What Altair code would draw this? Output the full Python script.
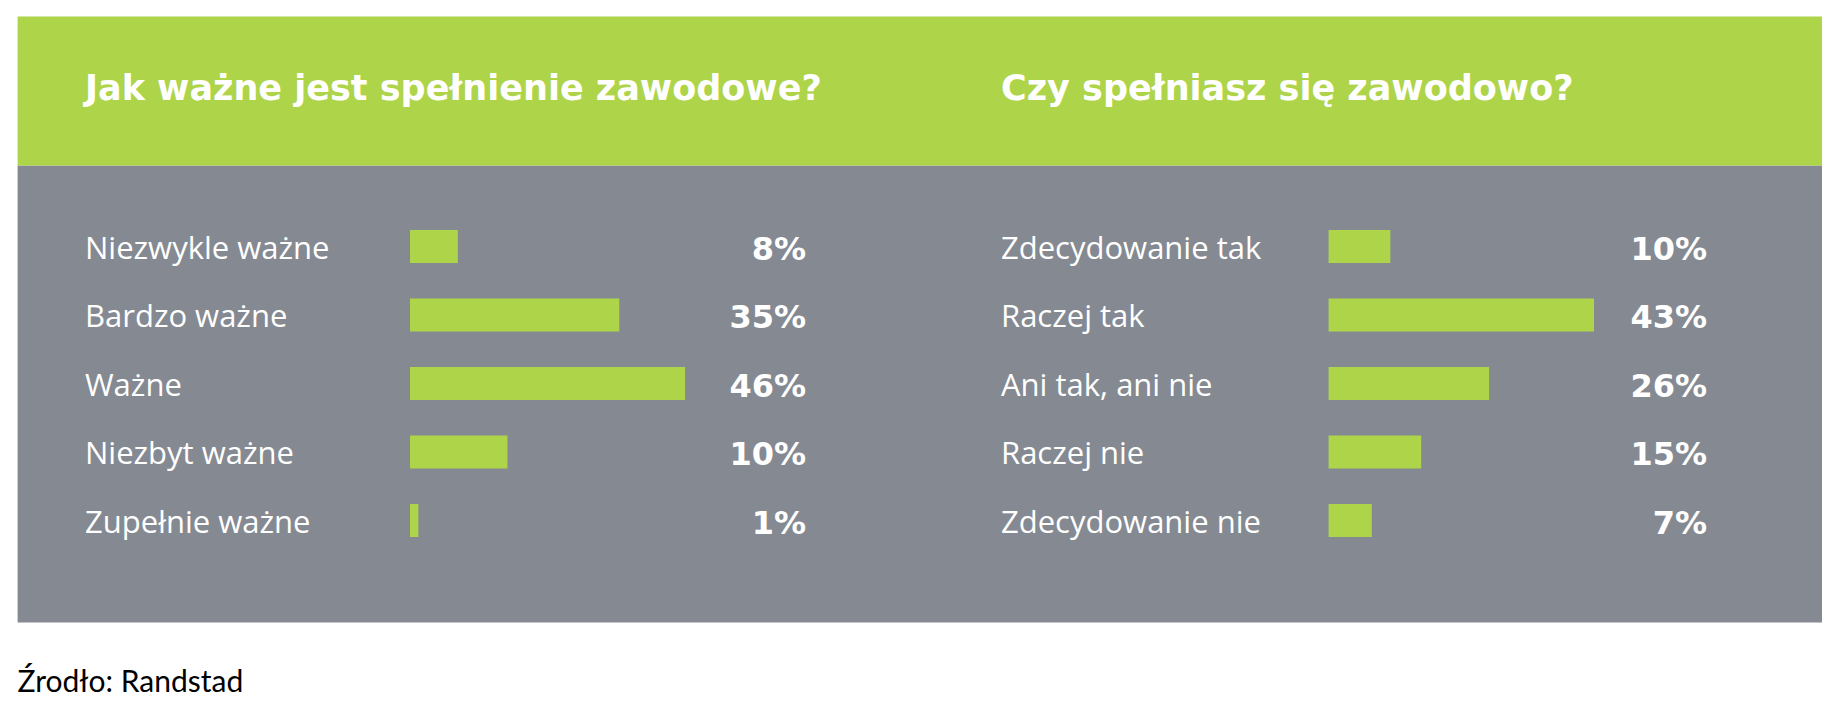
import altair as alt
import pandas as pd

# ---- data ----
titles = ["Jak ważne jest spełnienie zawodowe?", "Czy spełniasz się zawodowo?"]

left_cats = ["Niezwykle ważne", "Bardzo ważne", "Ważne", "Niezbyt ważne", "Zupełnie ważne"]
left_labels = ["8%", "35%", "46%", "10%", "1%"]
left_bars = [8, 35, 46, 16.3, 1.4]   # bar lengths as drawn in the picture (in %)

right_cats = ["Zdecydowanie tak", "Raczej tak", "Ani tak, ani nie", "Raczej nie", "Zdecydowanie nie"]
right_labels = ["10%", "43%", "26%", "15%", "7%"]
right_bars = [10, 43, 26, 15, 7]

source_text = "Źrodło: Randstad"

GREEN = "#aed44a"
GRAY = "#858a92"
W, H = 1842, 710

left = pd.DataFrame({"row": range(5), "cat": left_cats, "label": left_labels, "bar": left_bars})
right = pd.DataFrame({"row": range(5), "cat": right_cats, "label": right_labels, "bar": right_bars})

one = alt.Data(values=[{}])

y_enc = alt.Y("row:O", axis=None,
              scale=alt.Scale(range=[212.25, 554.75], paddingInner=0.518, paddingOuter=0.259))

gray_bg = alt.Chart(one).mark_rect(color=GRAY).encode(
    x=alt.value(17.6), x2=alt.value(1822), y=alt.value(165.6), y2=alt.value(622.6))
green_bg = alt.Chart(one).mark_rect(color=GREEN).encode(
    x=alt.value(17.6), x2=alt.value(1822), y=alt.value(16.4), y2=alt.value(165.6))

title_df = pd.DataFrame({"t": titles, "px": [85, 1001]})
title_marks = alt.Chart(title_df).mark_text(
    align="left", baseline="middle", font="DejaVu Sans", fontSize=35, fontWeight="bold", color="white"
).encode(x=alt.X("px:Q", scale=None), y=alt.value(89), text="t:N")

def panel(df, lab_x, bar_range, dom_max, pct_x):
    base = alt.Chart(df)
    bars = base.mark_bar(color=GREEN, cornerRadius=0).encode(
        x=alt.X("bar:Q", axis=None, scale=alt.Scale(domain=[0, dom_max], range=bar_range)),
        y=y_enc)
    cats = base.mark_text(align="left", baseline="middle", font="Open Sans", fontSize=31,
                          dy=3, color="white").encode(
        x=alt.value(lab_x), y=y_enc, text="cat:N")
    pcts = base.mark_text(align="right", baseline="middle", font="DejaVu Sans", fontSize=32,
                          fontWeight="bold", dy=3, color="white").encode(
        x=alt.value(pct_x), y=y_enc, text="label:N")
    return bars, cats, pcts

lb, lc, lp = panel(left, 85, [410, 685], 46, 806)
rb, rc, rp = panel(right, 1001, [1328.6, 1594], 43, 1707)

src = alt.Chart(pd.DataFrame({"s": [source_text]})).mark_text(
    align="left", baseline="middle", font="Lato", fontSize=30, color="black"
).encode(x=alt.value(17.6), y=alt.value(683), text="s:N")

chart = alt.layer(gray_bg, green_bg, title_marks, lb, lc, lp, rb, rc, rp, src).resolve_scale(
    x="independent"
).properties(width=W, height=H, padding=0, autosize="none", background="white").configure_view(stroke=None)

chart.save("out.html", embed_options={"renderer": "svg", "actions": False})
